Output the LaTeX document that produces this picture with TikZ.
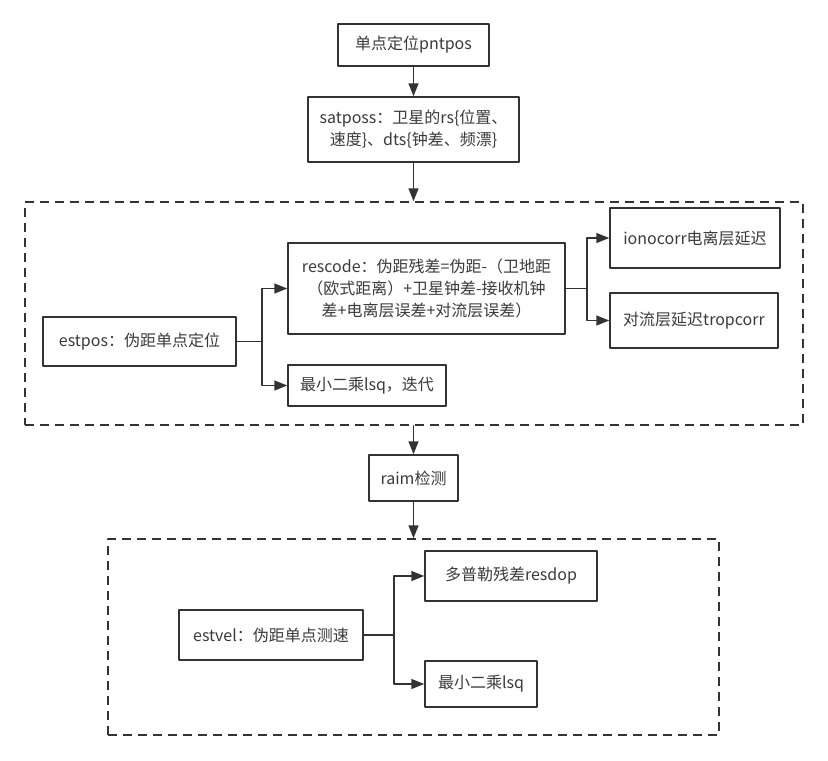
\documentclass[tikz,border=0pt]{standalone}
\usepackage{fontspec}
\setmainfont{Noto Sans CJK SC}
\usepackage{tikz}
\usetikzlibrary{arrows.meta}

\definecolor{linegray}{HTML}{333333}
\definecolor{textgray}{HTML}{3A3A3A}

\begin{document}
\begin{tikzpicture}[line cap=round,line join=round,>={Triangle[length=13pt,width=10pt]},x=1pt,y=-1pt,
    box/.style={draw=linegray,line width=1.5pt,align=center,inner sep=0pt,text=textgray,
        font=\fontsize{16}{22}\selectfont},
    groupbox/.style={draw=linegray,line width=1.5pt,dash pattern=on 9pt off 6pt,line cap=butt,inner sep=0pt},
    link/.style={->,draw=linegray,line width=1.5pt}]
        \useasboundingbox (0,0) rectangle (828,761);
        % groups
        \node[groupbox,minimum width=778pt,minimum height=223pt] (posgroup) at (414,313.5) {};
        \node[groupbox,minimum width=611pt,minimum height=196pt] (velgroup) at (413.5,637) {};
        % boxes
        \node[box,minimum width=151pt,minimum height=42pt] (pntpos) at (413.5,45) {单点定位pntpos};
        \node[box,minimum width=211pt,minimum height=65pt] (satposs) at (413.5,129.5) {satposs：卫星的rs\{位置、\\速度\}、dts\{钟差、频漂\}};
        \node[box,minimum width=193pt,minimum height=49pt] (estpos) at (139.5,341.5) {estpos：伪距单点定位};
        \node[box,minimum width=277pt,minimum height=91pt] (rescode) at (426.5,288.5) {rescode：伪距残差=伪距-（卫地距\\（欧式距离）+卫星钟差-接收机钟\\差+电离层误差+对流层误差）};
        \node[box,minimum width=158pt,minimum height=41pt] (lsqpos) at (367,385.5) {最小二乘lsq，迭代};
        \node[box,minimum width=170pt,minimum height=60pt] (ionocorr) at (695,238) {ionocorr电离层延迟};
        \node[box,minimum width=168pt,minimum height=55pt] (tropcorr) at (694,320.5) {对流层延迟tropcorr};
        \node[box,minimum width=89pt,minimum height=46pt] (raim) at (413.5,478) {raim检测};
        \node[box,minimum width=184pt,minimum height=50pt] (estvel) at (271,635) {estvel：伪距单点测速};
        \node[box,minimum width=172pt,minimum height=50pt] (resdop) at (511,576) {多普勒残差resdop};
        \node[box,minimum width=112pt,minimum height=46pt] (lsqvel) at (481,684) {最小二乘lsq};
        % branch points
        \coordinate (posfork) at (262,341.5);
        \coordinate (corrfork) at (587,288.5);
        \coordinate (velfork) at (394,635);
        % links
        \draw[link] (pntpos) -- (satposs);
        \draw[link] (satposs.south) -- (satposs.south |- posgroup.north);
        \draw[link] (raim.north |- posgroup.south) -- (raim.north);
        \draw[link] (raim.south) -- (raim.south |- velgroup.north);
        \draw[link] (estpos) -- (posfork) |- (rescode);
        \draw[link] (posfork) |- (lsqpos);
        \draw[link] (rescode) -- (corrfork) |- (ionocorr);
        \draw[link] (corrfork) |- (tropcorr);
        \draw[link] (estvel) -- (velfork) |- (resdop);
        \draw[link] (velfork) |- (lsqvel);
    \end{tikzpicture}
\end{document}
